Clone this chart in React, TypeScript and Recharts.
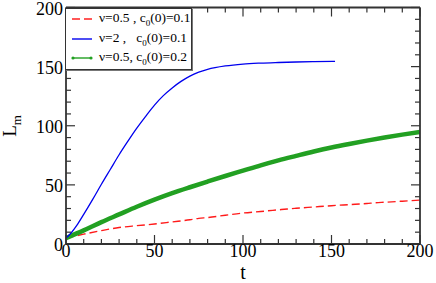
import { LineChart, Line, XAxis, YAxis } from "recharts";

const redT = [0, 10, 20, 25, 30, 40, 50, 60, 70, 75, 80, 90, 100, 110, 120, 125, 130, 140, 150, 160, 170, 175, 180, 190, 200];
const redL = [5, 8.3, 11.3, 12.7, 13.9, 15.5, 16.9, 18.7, 20.5, 21.7, 22.4, 24.3, 26.2, 27.5, 28.9, 29.6, 30.2, 31.3, 32.4, 33.3, 34.2, 34.9, 35.3, 36.2, 37.1];

const greenT = [0, 10, 20, 30, 40, 50, 60, 70, 80, 90, 100, 110, 120, 130, 140, 150, 160, 170, 180, 190, 200];
const greenL = [5, 11.5, 18.5, 25, 31.5, 37.5, 43, 48, 52.8, 57.5, 62, 66.5, 70.7, 74.5, 78.2, 81.6, 84.6, 87.4, 90, 92.5, 94.8];

const blueT = [0, 3, 6, 10, 15, 20, 25, 30, 35, 40, 45, 50, 55, 60, 65, 70, 75, 80, 90, 100, 110, 120, 130, 140, 152];
const blueL = [5, 9.5, 15.5, 25, 37.5, 50.5, 63, 75.5, 87, 98, 108, 117.5, 125.5, 132, 137.5, 142, 145.3, 147.7, 150.6, 152.2, 153, 153.5, 153.9, 154.2, 154.5];

const xTicks = [0, 10, 20, 30, 40, 50, 60, 70, 80, 90, 100, 110, 120, 130, 140, 150, 160, 170, 180, 190, 200];
const yTicks = [0, 10, 20, 30, 40, 50, 60, 70, 80, 90, 100, 110, 120, 130, 140, 150, 160, 170, 180, 190, 200];

const redData = redT.map((t, i) => ({ t, v: redL[i] }));
const greenData = greenT.map((t, i) => ({ t, v: greenL[i] }));
const blueData = blueT.map((t, i) => ({ t, v: blueL[i] }));

const FONT = "'Liberation Serif', 'Times New Roman', 'DejaVu Serif', serif";
const AXIS = "#333";

const makeXTick = (side: "top" | "bottom") => (props: any) => {
  const { x, y, payload } = props;
  const major = payload.value % 50 === 0;
  const len = major ? 9 : 5;
  const dir = side === "bottom" ? -1 : 1;
  return (
    <g>
      <line x1={x} x2={x} y1={y} y2={y + dir * len} stroke={AXIS} strokeWidth={1.2} />
      {side === "bottom" && major && (
        <text x={x} y={y + 13} textAnchor="middle" style={{ fontFamily: FONT, fontSize: 18 }} fill="#000">
          {payload.value}
        </text>
      )}
    </g>
  );
};

const makeYTick = (side: "left" | "right") => (props: any) => {
  const { x, y, payload } = props;
  const major = payload.value % 50 === 0;
  const len = major ? 9 : 5;
  const dir = side === "left" ? 1 : -1;
  return (
    <g>
      <line x1={x} x2={x + dir * len} y1={y} y2={y} stroke={AXIS} strokeWidth={1.2} />
      {side === "left" && major && (
        <text x={x - 3} y={y + 7} textAnchor="end" style={{ fontFamily: FONT, fontSize: 18 }} fill="#000">
          {payload.value}
        </text>
      )}
    </g>
  );
};

function Sample({ color, dash, dots, width }: { color: string; dash?: string; dots?: boolean; width: number }) {
  return (
    <svg width={22} height={8} style={{ display: "block" }}>
      <line x1={1} x2={21} y1={4} y2={4} stroke={color} strokeWidth={width} strokeDasharray={dash} />
      {dots && <circle cx={2} cy={4} r={1.6} fill={color} />}
      {dots && <circle cx={20} cy={4} r={1.6} fill={color} />}
    </svg>
  );
}

const rows = [
  { color: "#ff2020", dash: "8 4", dots: false, width: 1.6, label: ["ν=0.5 , c", "0", "(0)=0.1"] },
  { color: "#0000ee", dash: undefined, dots: false, width: 1.4, label: ["ν=2 ,   c", "0", "(0)=0.1"] },
  { color: "#22a022", dash: undefined, dots: true, width: 1.4, label: ["ν=0.5, c", "0", "(0)=0.2"] },
];

const axisCommon = {
  type: "number" as const,
  domain: [0, 200],
  interval: 0 as const,
  tickSize: 0,
  tickMargin: 0,
  tickLine: false,
  axisLine: { stroke: AXIS, strokeWidth: 1.8 },
  allowDataOverflow: true,
};

export default function App() {
  return (
    <div style={{ position: "absolute", left: 0, top: 0, width: 436, height: 283, background: "#fff" }}>
      <LineChart width={436} height={283} margin={{ top: 6.5, right: 15, bottom: 38, left: 65 }}>
        <XAxis {...axisCommon} xAxisId={0} dataKey="t" ticks={xTicks} height={1} tick={makeXTick("bottom")} />
        <XAxis {...axisCommon} xAxisId="top" orientation="top" dataKey="t" ticks={xTicks} height={1} tick={makeXTick("top")} />
        <YAxis {...axisCommon} yAxisId={0} ticks={yTicks} width={1} tick={makeYTick("left")} />
        <YAxis {...axisCommon} yAxisId="right" orientation="right" ticks={yTicks} width={1} tick={makeYTick("right")} />
        <Line data={redData} dataKey="v" type="monotone" stroke="#ff1a1a" strokeWidth={1.4} strokeDasharray="8 4" dot={false} isAnimationActive={false} />
        <Line data={greenData} dataKey="v" type="monotone" stroke="#22a022" strokeWidth={4.5} dot={false} isAnimationActive={false} />
        <Line data={blueData} dataKey="v" type="monotone" stroke="#0000ee" strokeWidth={1.3} dot={false} isAnimationActive={false} />
      </LineChart>
      <svg width={436} height={283} style={{ position: "absolute", left: 0, top: 0, pointerEvents: "none" }}>
        <text x={243} y={279} textAnchor="middle" style={{ fontFamily: FONT, fontSize: 20 }}>t</text>
        <text transform="translate(16,126) rotate(-90)" textAnchor="middle" style={{ fontFamily: FONT, fontSize: 19 }}>
          L<tspan style={{ fontSize: 13 }} dy={5}>m</tspan>
        </text>
      </svg>
      <div
        style={{
          position: "absolute",
          left: 65,
          top: 8,
          width: 127,
          height: 62,
          border: "1px solid #333",
          boxShadow: "1px 1px 0 #777",
          background: "#fff",
          fontFamily: FONT,
          fontSize: 13.5,
          boxSizing: "border-box",
        }}
      >
        {rows.map((r, i) => (
          <div key={i} style={{ position: "absolute", left: 5, top: 1 + i * 19.5, height: 18, display: "flex", alignItems: "center", whiteSpace: "pre" }}>
            <Sample color={r.color} dash={r.dash} dots={r.dots} width={r.width} />
            <span style={{ marginLeft: 6 }}>
              {r.label[0]}
              <sub style={{ fontSize: 9 }}>{r.label[1]}</sub>
              {r.label[2]}
            </span>
          </div>
        ))}
      </div>
    </div>
  );
}
